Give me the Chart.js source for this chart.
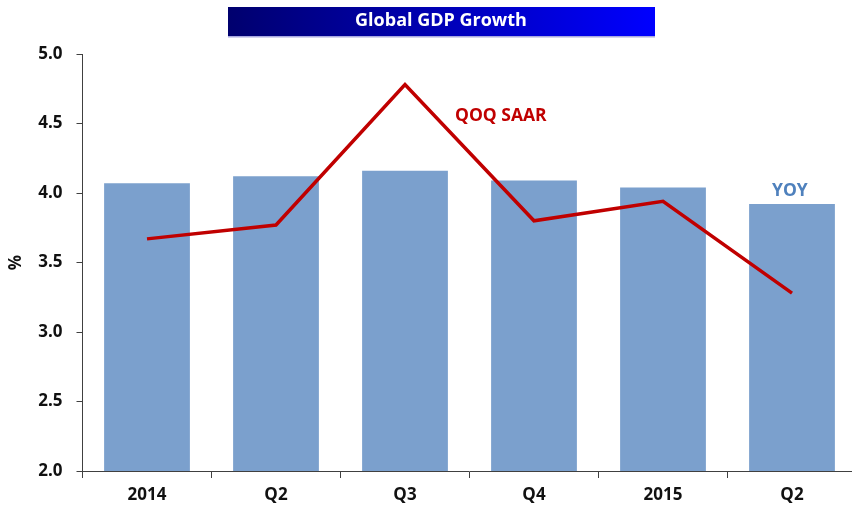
<!DOCTYPE html>
<html lang="en">
<head>
  <meta charset="UTF-8">
  <title>Global GDP Growth</title>
  <style>
    html, body { margin: 0; padding: 0; background: #fff; overflow: hidden; }
    #wrap { width: 858px; height: 508px; }
  </style>
</head>
<body>
<div id="wrap"><canvas id="myChart"></canvas></div>

<script src="https://cdn.jsdelivr.net/npm/chart.js"></script>
<script>
  // Data
  var categories = ['2014', 'Q2', 'Q3', 'Q4', '2015', 'Q2'];
  var yoyValues = [4.07, 4.12, 4.16, 4.09, 4.04, 3.92];
  var qoqValues = [3.67, 3.77, 4.78, 3.80, 3.94, 3.28];
  var yTicks = [2.0, 2.5, 3.0, 3.5, 4.0, 4.5, 5.0];

  var fontFamily = "'Open Sans', 'Liberation Sans', sans-serif";

  // Title banner + series labels
  var decorPlugin = {
    id: 'decor',
    afterDraw: function(chart) {
      var ctx = chart.ctx;
      ctx.save();
      var g = ctx.createLinearGradient(228, 0, 655, 0);
      g.addColorStop(0, '#00006e');
      g.addColorStop(1, '#0000ff');
      ctx.fillStyle = g;
      ctx.fillRect(228, 7, 427, 30);
      ctx.fillStyle = '#a8a8e0';
      ctx.fillRect(228, 36, 427, 1.5);
      ctx.fillStyle = '#ffffff';
      ctx.font = 'bold 18px ' + fontFamily;
      ctx.textAlign = 'center';
      ctx.textBaseline = 'middle';
      ctx.fillText('Global GDP Growth', 441, 21);

      ctx.font = 'bold 17.5px ' + fontFamily;
      ctx.fillStyle = '#c00000';
      ctx.textAlign = 'left';
      ctx.fillText('QOQ SAAR', 455, 116);
      ctx.fillStyle = '#4f81bd';
      ctx.fillText('YOY', 772, 191);
      ctx.restore();
    }
  };

  var ctx = document.getElementById('myChart').getContext('2d');
  var myChart = new Chart(ctx, {
    type: 'bar',
    data: {
      labels: categories,
      datasets: [{
        type: 'line',
        label: 'QOQ SAAR',
        data: qoqValues,
        borderColor: '#c00000',
        borderWidth: 3.5,
        pointRadius: 0,
        fill: false,
        tension: 0,
        order: 0
      }, {
        label: 'YOY',
        data: yoyValues,
        backgroundColor: '#7ba0cd',
        borderWidth: 0,
        categoryPercentage: 1,
        barPercentage: 0.665,
        order: 1
      }]
    },
    options: {
      responsive: true,
      maintainAspectRatio: false,
      animation: false,
      layout: { padding: { top: 54, right: 1.5, left: 0, bottom: 0 } },
      plugins: {
        legend: { display: false },
        tooltip: { enabled: false }
      },
      scales: {
        x: {
          offset: true,
          grid: {
            offset: true,
            drawOnChartArea: false,
            tickLength: 7,
            tickColor: '#404040',
            color: '#404040'
          },
          border: { color: '#404040', width: 1 },
          ticks: {
            color: '#111',
            padding: 7,
            font: { family: fontFamily, size: 17, weight: 'bold' }
          },
          afterFit: function(scale) { scale.height = 37; }
        },
        y: {
          min: 2,
          max: 5,
          afterBuildTicks: function(scale) {
            scale.ticks = yTicks.map(function(v) { return { value: v }; });
          },
          grid: {
            drawOnChartArea: false,
            tickLength: 6,
            tickColor: '#404040',
            color: '#404040'
          },
          border: { color: '#404040', width: 1 },
          ticks: {
            color: '#111',
            padding: 14,
            font: { family: fontFamily, size: 17, weight: 'bold' },
            callback: function(v) { return Number(v).toFixed(1); }
          },
          title: {
            display: true,
            text: '%',
            color: '#111',
            padding: { top: 6, bottom: 0 },
            font: { family: fontFamily, size: 17, weight: 'bold' }
          },
          afterFit: function(scale) { scale.width = 82.5; }
        }
      }
    },
    plugins: [decorPlugin]
  });
</script>
</body>
</html>
